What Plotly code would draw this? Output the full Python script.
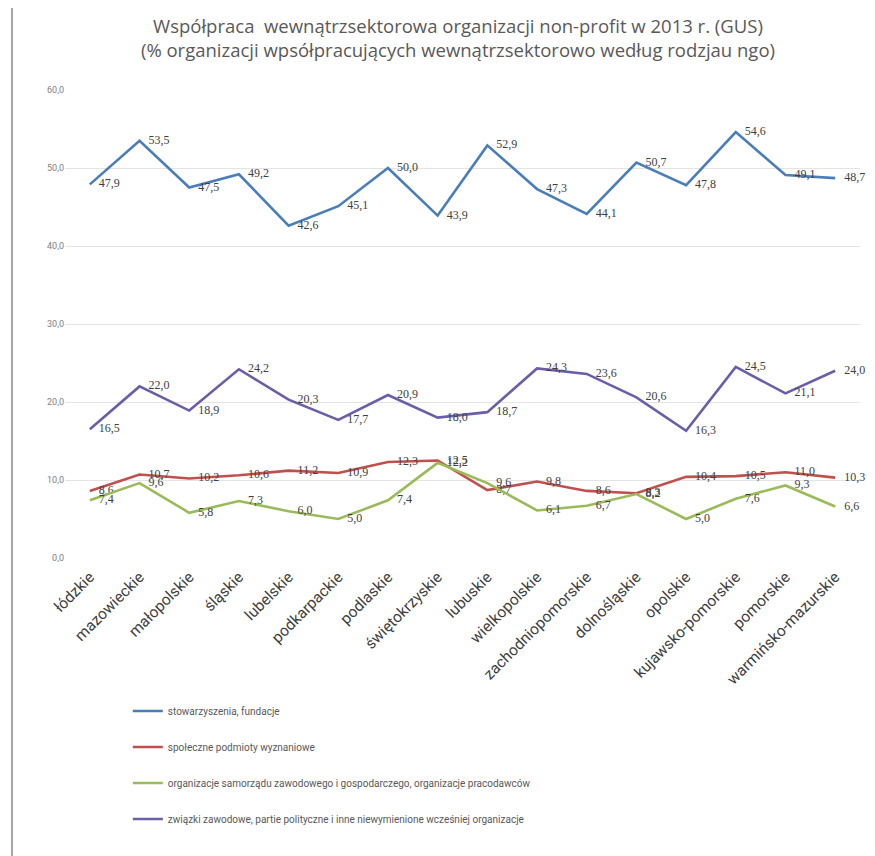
import plotly.graph_objects as go

categories = ["łódzkie", "mazowieckie", "małopolskie", "śląskie", "lubelskie",
              "podkarpackie", "podlaskie", "świętokrzyskie", "lubuskie", "wielkopolskie",
              "zachodniopomorskie", "dolnośląskie", "opolskie", "kujawsko-pomorskie",
              "pomorskie", "warmińsko-mazurskie"]

stowarzyszenia = [47.9, 53.5, 47.5, 49.2, 42.6, 45.1, 50.0, 43.9, 52.9, 47.3, 44.1, 50.7, 47.8, 54.6, 49.1, 48.7]
wyznaniowe = [8.6, 10.7, 10.2, 10.6, 11.2, 10.9, 12.3, 12.5, 8.7, 9.8, 8.6, 8.3, 10.4, 10.5, 11.0, 10.3]
samorzad = [7.4, 9.6, 5.8, 7.3, 6.0, 5.0, 7.4, 12.2, 9.6, 6.1, 6.7, 8.2, 5.0, 7.6, 9.3, 6.6]
zwiazki = [16.5, 22.0, 18.9, 24.2, 20.3, 17.7, 20.9, 18.0, 18.7, 24.3, 23.6, 20.6, 16.3, 24.5, 21.1, 24.0]

series_names = ["stowarzyszenia, fundacje",
                "społeczne podmioty wyznaniowe",
                "organizacje samorządu zawodowego i gospodarczego, organizacje pracodawców",
                "związki zawodowe, partie polityczne i inne niewymienione wcześniej organizacje"]
series_values = [stowarzyszenia, wyznaniowe, samorzad, zwiazki]
colors = ["#4A7EBB", "#C0504D", "#9BBB59", "#6B5EA8"]

y_ticks = [0, 10, 20, 30, 40, 50, 60]
y_ticktext = [f"{v:.1f}".replace(".", ",") for v in y_ticks]

fig = go.Figure()
for i, (name, vals, col) in enumerate(zip(series_names, series_values, colors)):
    fig.add_trace(go.Scatter(
        x=categories, y=vals, name=name, mode="lines+text",
        line=dict(color=col, width=2.6),
        text=["   " + f"{v:.1f}".replace(".", ",") for v in vals],
        textposition="middle right",
        textfont=dict(family="Liberation Serif", size=12, color="#404040"),
        legendgroup=f"g{i}",
        cliponaxis=False,
    ))

fig.update_layout(
    width=867, height=848,
    paper_bgcolor="white", plot_bgcolor="white",
    margin=dict(l=57, r=15, t=82, b=298),
    title=dict(
        text="Współpraca  wewnątrzsektorowa organizacji non-profit w 2013 r. (GUS)<br>(% organizacji wpsółpracujących wewnątrzsektorowo według rodzjau ngo)",
        x=0.519, xanchor="center", y=0.97, yref="container", yanchor="top",
        font=dict(family="Open Sans", size=18.5, color="#595959"),
    ),
    showlegend=True,
    legend=dict(
        orientation="v", x=0.079, xanchor="left", y=-0.296, yanchor="top",
        font=dict(family="Roboto", size=10, color="#595959"),
        tracegroupgap=17, itemwidth=30, bgcolor="rgba(0,0,0,0)",
    ),
    xaxis=dict(
        type="category", tickangle=-45, showgrid=False, showline=False,
        ticks="", tickfont=dict(family="Roboto", size=15.5, color="#404040"),
        ticklabelstandoff=6,
        range=[-0.5, 15.5],
    ),
    yaxis=dict(
        range=[0, 60], tickvals=y_ticks, ticktext=y_ticktext,
        showgrid=True, gridcolor="#E4E4E4", gridwidth=1, zeroline=False,
        showline=False, ticks="",
        tickfont=dict(family="Roboto", size=9, color="#7F7F7F"),
    ),
    shapes=[dict(type="line", xref="paper", yref="paper",
                 x0=-0.0667, x1=-0.0667, y0=-0.65, y1=1.19,
                 line=dict(color="#A6A6A6", width=2))],
)

fig.write_html("out.html")
